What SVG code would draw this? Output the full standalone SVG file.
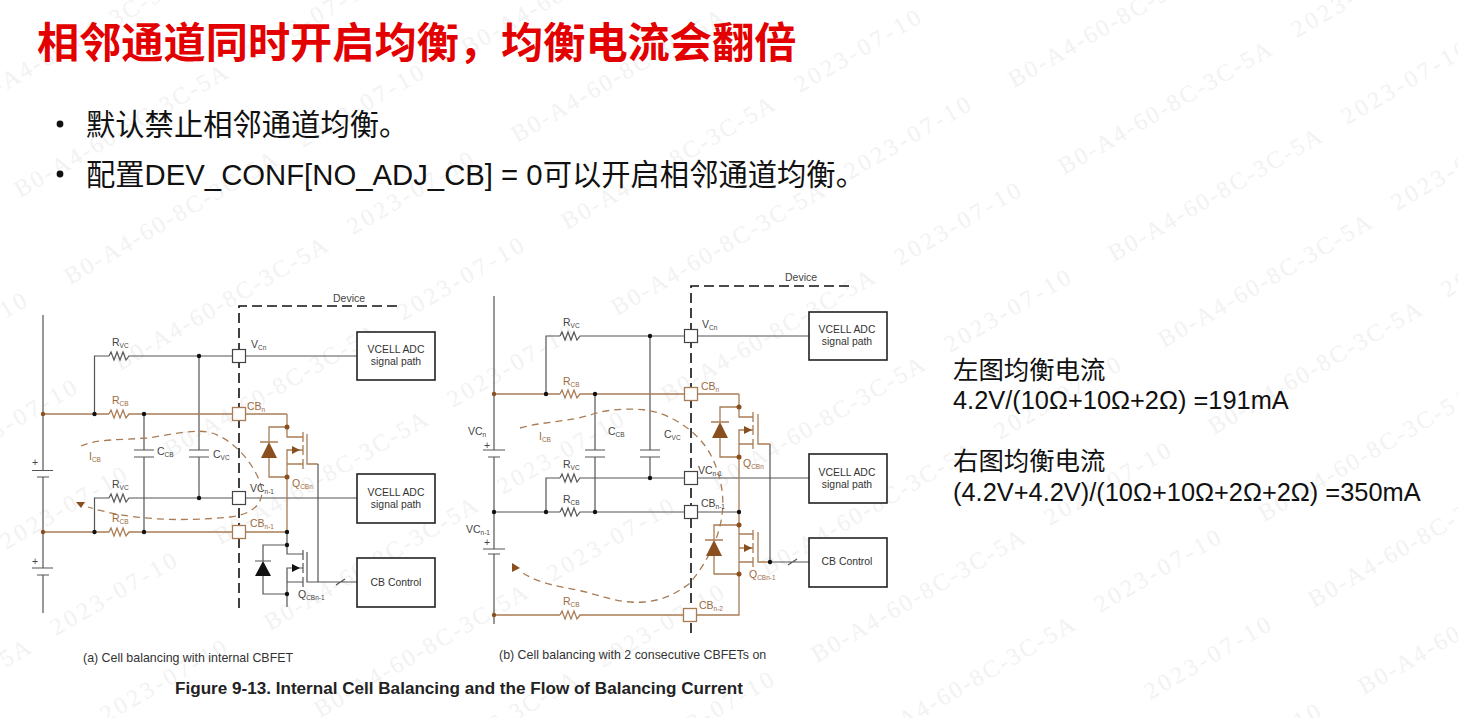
<svg xmlns="http://www.w3.org/2000/svg" width="1458" height="718" viewBox="0 0 1458 718">
<style>
text{font-family:"Liberation Sans","Noto Sans CJK SC",sans-serif}
.wm text{font-family:"Liberation Serif",serif;font-size:24px;fill:#f2f2f2}
.w1{letter-spacing:2.2px}
.w2{letter-spacing:3.3px}
.title{font-size:42.2px;font-weight:700;fill:#e30000}
.body{font-size:29.3px;fill:#111}
.note{font-size:25.4px;fill:#111}
.l{font-size:10.5px;fill:#444}
.b{font-size:10.5px;fill:#9c6b42}
.s{font-size:6.5px}
.cap{font-size:12.4px;fill:#333}
.fig{font-size:17.1px;font-weight:700;fill:#222}
.boxt{font-size:10.4px;fill:#333;text-anchor:middle}
.d{fill:none;stroke:#555;stroke-width:1.2}
.br{fill:none;stroke:#a97c55;stroke-width:1.3}
.edge{fill:none;stroke:#111;stroke-width:1.6;stroke-dasharray:10 5}
.flow{fill:none;stroke:#a97c55;stroke-width:1.3;stroke-dasharray:7 5}
.box{fill:#fff;stroke:#222;stroke-width:1.6}
.pin{fill:#fff;stroke:#444;stroke-width:1.2}
.pinb{fill:#fff;stroke:#a97c55;stroke-width:1.3}
.dot{fill:#111}
.dotb{fill:#8a4f1e}
.tri{fill:#8a4f1e}
.trik{fill:#111}
</style>
<defs>
<path id="res" d="M0,0L2,-4L5,4L8,-4L11,4L14,-4L17,4L20,0H21"/>
</defs>
<rect width="1458" height="718" fill="#fff"/>
<g class="wm">
<text class="w1" transform="translate(-177 773) rotate(-30)">B0-A4-60-8C-3C-5A</text>
<text class="w1" transform="translate(-30 111) rotate(-30)">B0-A4-60-8C-3C-5A</text>
<text class="w1" transform="translate(20 198) rotate(-30)">B0-A4-60-8C-3C-5A</text>
<text class="w1" transform="translate(70 285) rotate(-30)">B0-A4-60-8C-3C-5A</text>
<text class="w1" transform="translate(120 371) rotate(-30)">B0-A4-60-8C-3C-5A</text>
<text class="w1" transform="translate(170 458) rotate(-30)">B0-A4-60-8C-3C-5A</text>
<text class="w1" transform="translate(220 545) rotate(-30)">B0-A4-60-8C-3C-5A</text>
<text class="w1" transform="translate(270 631) rotate(-30)">B0-A4-60-8C-3C-5A</text>
<text class="w1" transform="translate(320 718) rotate(-30)">B0-A4-60-8C-3C-5A</text>
<text class="w1" transform="translate(370 805) rotate(-30)">B0-A4-60-8C-3C-5A</text>
<text class="w1" transform="translate(467 56) rotate(-30)">B0-A4-60-8C-3C-5A</text>
<text class="w1" transform="translate(517 143) rotate(-30)">B0-A4-60-8C-3C-5A</text>
<text class="w1" transform="translate(567 230) rotate(-30)">B0-A4-60-8C-3C-5A</text>
<text class="w1" transform="translate(617 316) rotate(-30)">B0-A4-60-8C-3C-5A</text>
<text class="w1" transform="translate(667 403) rotate(-30)">B0-A4-60-8C-3C-5A</text>
<text class="w1" transform="translate(717 490) rotate(-30)">B0-A4-60-8C-3C-5A</text>
<text class="w1" transform="translate(767 576) rotate(-30)">B0-A4-60-8C-3C-5A</text>
<text class="w1" transform="translate(817 663) rotate(-30)">B0-A4-60-8C-3C-5A</text>
<text class="w1" transform="translate(867 750) rotate(-30)">B0-A4-60-8C-3C-5A</text>
<text class="w1" transform="translate(1014 88) rotate(-30)">B0-A4-60-8C-3C-5A</text>
<text class="w1" transform="translate(1064 175) rotate(-30)">B0-A4-60-8C-3C-5A</text>
<text class="w1" transform="translate(1114 262) rotate(-30)">B0-A4-60-8C-3C-5A</text>
<text class="w1" transform="translate(1164 348) rotate(-30)">B0-A4-60-8C-3C-5A</text>
<text class="w1" transform="translate(1214 435) rotate(-30)">B0-A4-60-8C-3C-5A</text>
<text class="w1" transform="translate(1264 522) rotate(-30)">B0-A4-60-8C-3C-5A</text>
<text class="w1" transform="translate(1314 608) rotate(-30)">B0-A4-60-8C-3C-5A</text>
<text class="w1" transform="translate(1364 695) rotate(-30)">B0-A4-60-8C-3C-5A</text>
<text class="w2" transform="translate(-94 376) rotate(-30)">2023-07-10</text>
<text class="w2" transform="translate(-44 463) rotate(-30)">2023-07-10</text>
<text class="w2" transform="translate(6 550) rotate(-30)">2023-07-10</text>
<text class="w2" transform="translate(56 636) rotate(-30)">2023-07-10</text>
<text class="w2" transform="translate(106 723) rotate(-30)">2023-07-10</text>
<text class="w2" transform="translate(253 61) rotate(-30)">2023-07-10</text>
<text class="w2" transform="translate(303 148) rotate(-30)">2023-07-10</text>
<text class="w2" transform="translate(353 235) rotate(-30)">2023-07-10</text>
<text class="w2" transform="translate(403 321) rotate(-30)">2023-07-10</text>
<text class="w2" transform="translate(453 408) rotate(-30)">2023-07-10</text>
<text class="w2" transform="translate(503 495) rotate(-30)">2023-07-10</text>
<text class="w2" transform="translate(553 582) rotate(-30)">2023-07-10</text>
<text class="w2" transform="translate(603 668) rotate(-30)">2023-07-10</text>
<text class="w2" transform="translate(653 755) rotate(-30)">2023-07-10</text>
<text class="w2" transform="translate(800 93) rotate(-30)">2023-07-10</text>
<text class="w2" transform="translate(850 180) rotate(-30)">2023-07-10</text>
<text class="w2" transform="translate(900 266) rotate(-30)">2023-07-10</text>
<text class="w2" transform="translate(950 353) rotate(-30)">2023-07-10</text>
<text class="w2" transform="translate(1000 440) rotate(-30)">2023-07-10</text>
<text class="w2" transform="translate(1050 526) rotate(-30)">2023-07-10</text>
<text class="w2" transform="translate(1100 613) rotate(-30)">2023-07-10</text>
<text class="w2" transform="translate(1150 700) rotate(-30)">2023-07-10</text>
<text class="w2" transform="translate(1200 787) rotate(-30)">2023-07-10</text>
<text class="w2" transform="translate(1297 38) rotate(-30)">2023-07-10</text>
<text class="w2" transform="translate(1347 125) rotate(-30)">2023-07-10</text>
<text class="w2" transform="translate(1397 211) rotate(-30)">2023-07-10</text>
<text class="w2" transform="translate(1447 298) rotate(-30)">2023-07-10</text>
</g>
<g id="heading">
<text class="title" x="37" y="58">相邻通道同时开启均衡，均衡电流会翻倍</text>
<circle cx="60" cy="124" r="3.4" fill="#111"/>
<text class="body" x="86" y="135">默认禁止相邻通道均衡。</text>
<circle cx="60" cy="174" r="3.4" fill="#111"/>
<text class="body" x="86" y="185">配置DEV_CONF[NO_ADJ_CB] = 0可以开启相邻通道均衡。</text>
</g>
<g id="connectors">
<path class="edge" d="M239,608V306H398"/>
<path class="d" d="M43,315V470M43,477V568M43,575V613M32,470.500H53M37,477H49M32,568H53M37,575H49"/>
<path class="d" d="M94.500,414V356H109M130,356H357M199,356V450M199,457V498M134,450H154M134,457H154M189,450H209M189,457H209M144,414V450M144,457V532M94.500,532V498H109M130,498H357"/>
<path class="br" d="M43,414H109M130,414H287M43,532H109M130,532H287M287,414V437H303M303,450H287V464H303M287,464V532M303,432V442M303,445V455M303,459V469M307,434V464H318M287,427H269V442M269,458V477H287M260,442H278"/>
<path class="d" d="M318,464V582M287,532V554H303M303,568H287V582H303M287,582V607M303,550V560M303,563V573M303,577V587M307,552V582H357M287,545H263V561M263,576V594H287M255,561H271M336,585L345,579"/>
<use class="d" href="#res" x="109" y="356"/>
<use class="br" href="#res" x="109" y="414"/>
<use class="d" href="#res" x="109" y="498"/>
<use class="br" href="#res" x="109" y="532"/>
<path class="flow" d="M81,446C95,439 120,440 147,438C170,435 195,428 212,433C235,440 258,468 262,490C263,505 250,515 230,517C180,522 130,520 88,507"/>
<path class="tri" d="M76,502H85L81,508ZM261,458L269,442L277,458ZM292,446L300,450L292,454Z"/>
<path class="trik" d="M255,576L263,561L271,576ZM292,564L300,568L292,572Z"/>
<g class="dot">
<circle cx="94.500" cy="414" r="2.200"/><circle cx="144" cy="414" r="2.200"/><circle cx="199" cy="356" r="2.200"/><circle cx="199" cy="498" r="2.200"/><circle cx="94.500" cy="532" r="2.200"/><circle cx="144" cy="532" r="2.200"/><circle cx="287" cy="532" r="2.200"/><circle cx="287" cy="545" r="2.200"/><circle cx="287" cy="594" r="2.200"/>
</g>
<g class="dotb">
<circle cx="43" cy="414" r="2.200"/><circle cx="43" cy="532" r="2.200"/><circle cx="287" cy="427" r="2.500"/><circle cx="287" cy="477" r="2.500"/>
</g>
<path class="edge" d="M691,633V286H850"/>
<path class="d" d="M494,296V450M494,457V549M494,554V624M483,450H505M488,457H500M483,549H505M488,554H500"/>
<path class="d" d="M546,394V336H560M581,336H809M650,336V450M650,457V478M640,450H660M640,457H660M595,394V450M595,457V512M585,450H605M585,457H605M546,512V478H560M581,478H809M494,512H560M581,512H739M770,444V562M770,562H809M788,565L797,559"/>
<path class="br" d="M494,394H560M581,394H739M739,394V417H753M753,430H739V444H753M739,444V615H697M753,412V422M753,425V435M753,439V449M758,414V444H770M739,407H720V422M720,438V457H739M711,422H729M739,525V534H753M753,548H739V562H753M753,530V540M753,543V553M753,557V567M758,532V562H770M739,525H714V540M714,556V574H739M705,540H723M494,615H560M581,615H684"/>
<use class="d" href="#res" x="560" y="336"/>
<use class="br" href="#res" x="560" y="394"/>
<use class="d" href="#res" x="560" y="478"/>
<use class="d" href="#res" x="560" y="512"/>
<use class="br" href="#res" x="560" y="615"/>
<path class="flow" d="M520,428C545,421 570,422 593,414C610,409 630,408 645,410C670,413 695,430 708,450C720,470 725,495 722,515C719,540 705,565 690,583C675,595 660,601 643,602C620,604 600,595 577,590C555,586 535,582 520,571"/>
<path class="tri" d="M512,563L520,568L512,572ZM712,438L720,422L728,438ZM744,426L752,430L744,434ZM706,556L714,540L722,556ZM744,544L752,548L744,552Z"/>
<g class="dot">
<circle cx="546" cy="394" r="2.200"/><circle cx="595" cy="394" r="2.200"/><circle cx="650" cy="336" r="2.200"/><circle cx="650" cy="478" r="2.200"/><circle cx="494" cy="512" r="2.200"/><circle cx="546" cy="512" r="2.200"/><circle cx="595" cy="512" r="2.200"/><circle cx="739" cy="512" r="2.200"/><circle cx="770" cy="562" r="2.200"/>
</g>
<g class="dotb">
<circle cx="494" cy="394" r="2.200"/><circle cx="494" cy="615" r="2.200"/><circle cx="739" cy="407" r="2.500"/><circle cx="739" cy="457" r="2.500"/><circle cx="739" cy="525" r="2.500"/><circle cx="739" cy="574" r="2.500"/>
</g>
</g>
<g id="left-labels">
<text class="l" x="333" y="302">Device</text>
<text class="l" x="112" y="346">R<tspan class="s" dy="2">VC</tspan></text>
<text class="b" x="112" y="404">R<tspan class="s" dy="2">CB</tspan></text>
<text class="l" x="112" y="488">R<tspan class="s" dy="2">VC</tspan></text>
<text class="b" x="112" y="522">R<tspan class="s" dy="2">CB</tspan></text>
<text class="b" x="89" y="460">I<tspan class="s" dy="2">CB</tspan></text>
<text class="l" x="157" y="455">C<tspan class="s" dy="2">CB</tspan></text>
<text class="l" x="213" y="458">C<tspan class="s" dy="2">VC</tspan></text>
<text class="b" x="292" y="487">Q<tspan class="s" dy="2">CBn</tspan></text>
<text class="l" x="298" y="598">Q<tspan class="s" dy="2">CBn-1</tspan></text>
</g>
<g id="pin-VCn-a"><rect class="pin" x="232.500" y="349.500" width="13" height="13"/><text class="l" x="251" y="348">V<tspan class="s" dy="2">Cn</tspan></text></g>
<g id="pin-CBn-a"><rect class="pinb" x="232.500" y="407.500" width="13" height="13"/><text class="b" x="247" y="410">CB<tspan class="s" dy="2">n</tspan></text></g>
<g id="pin-VCn1-a"><rect class="pin" x="232.500" y="491.500" width="13" height="13"/><text class="l" x="250" y="492">VC<tspan class="s" dy="2">n-1</tspan></text></g>
<g id="pin-CBn1-a"><rect class="pinb" x="232.500" y="525.500" width="13" height="13"/><text class="b" x="250" y="527">CB<tspan class="s" dy="2">n-1</tspan></text></g>
<g id="adc1-a"><rect class="box" x="357" y="332" width="78" height="48"/><text class="boxt" x="396" y="353">VCELL ADC</text><text class="boxt" x="396" y="365">signal path</text></g>
<g id="adc2-a"><rect class="box" x="357" y="474" width="78" height="49"/><text class="boxt" x="396" y="496">VCELL ADC</text><text class="boxt" x="396" y="508">signal path</text></g>
<g id="cb-a"><rect class="box" x="357" y="558" width="78" height="49"/><text class="boxt" x="396" y="586">CB Control</text></g>
<g id="right-labels">
<text class="l" x="785" y="281">Device</text>
<text class="l" x="563" y="326">R<tspan class="s" dy="2">VC</tspan></text>
<text class="b" x="563" y="385">R<tspan class="s" dy="2">CB</tspan></text>
<text class="l" x="563" y="468">R<tspan class="s" dy="2">VC</tspan></text>
<text class="l" x="563" y="503">R<tspan class="s" dy="2">CB</tspan></text>
<text class="b" x="563" y="605">R<tspan class="s" dy="2">CB</tspan></text>
<text class="l" x="468" y="435">VC<tspan class="s" dy="2">n</tspan></text>
<text class="l" x="466" y="533">VC<tspan class="s" dy="2">n-1</tspan></text>
<text class="l" x="484" y="449">+</text>
<text class="l" x="484" y="546">+</text>
<text class="b" x="539" y="440">I<tspan class="s" dy="2">CB</tspan></text>
<text class="l" x="608" y="435">C<tspan class="s" dy="2">CB</tspan></text>
<text class="l" x="664" y="438">C<tspan class="s" dy="2">VC</tspan></text>
<text class="b" x="743" y="467">Q<tspan class="s" dy="2">CBn</tspan></text>
<text class="b" x="749" y="578">Q<tspan class="s" dy="2">CBn-1</tspan></text>
</g>
<g id="left-plus"><text class="l" x="32" y="466">+</text><text class="l" x="32" y="565">+</text></g>
<g id="pin-VCn-b"><rect class="pin" x="684.500" y="329.500" width="13" height="13"/><text class="l" x="702" y="328">V<tspan class="s" dy="2">Cn</tspan></text></g>
<g id="pin-CBn-b"><rect class="pinb" x="684.500" y="387.500" width="13" height="13"/><text class="b" x="701" y="390">CB<tspan class="s" dy="2">n</tspan></text></g>
<g id="pin-VCn1-b"><rect class="pin" x="684.500" y="471.500" width="13" height="13"/><text class="l" x="698" y="474">VC<tspan class="s" dy="2">n-1</tspan></text></g>
<g id="pin-CBn1-b"><rect class="pin" x="684.500" y="505.500" width="13" height="13"/><text class="l" x="701" y="507">CB<tspan class="s" dy="2">n-1</tspan></text></g>
<g id="pin-CBn2-b"><rect class="pinb" x="683.500" y="608.500" width="13" height="13"/><text class="b" x="699" y="609">CB<tspan class="s" dy="2">n-2</tspan></text></g>
<g id="adc1-b"><rect class="box" x="809" y="312" width="78" height="48"/><text class="boxt" x="847" y="333">VCELL ADC</text><text class="boxt" x="847" y="345">signal path</text></g>
<g id="adc2-b"><rect class="box" x="809" y="454" width="78" height="49"/><text class="boxt" x="847" y="476">VCELL ADC</text><text class="boxt" x="847" y="488">signal path</text></g>
<g id="cb-b"><rect class="box" x="809" y="538" width="78" height="49"/><text class="boxt" x="847" y="565">CB Control</text></g>
<g id="captions">
<text class="cap" x="83" y="662">(a) Cell balancing with internal CBFET</text>
<text class="cap" x="499" y="659">(b) Cell balancing with 2 consecutive CBFETs on</text>
<text class="fig" x="175" y="694">Figure 9-13. Internal Cell Balancing and the Flow of Balancing Current</text>
</g>
<g id="notes">
<text class="note" x="953" y="379">左图均衡电流</text>
<text class="note" x="953" y="409">4.2V/(10Ω+10Ω+2Ω) =191mA</text>
<text class="note" x="953" y="470">右图均衡电流</text>
<text class="note" x="953" y="501">(4.2V+4.2V)/(10Ω+10Ω+2Ω+2Ω) =350mA</text>
</g>
</svg>
